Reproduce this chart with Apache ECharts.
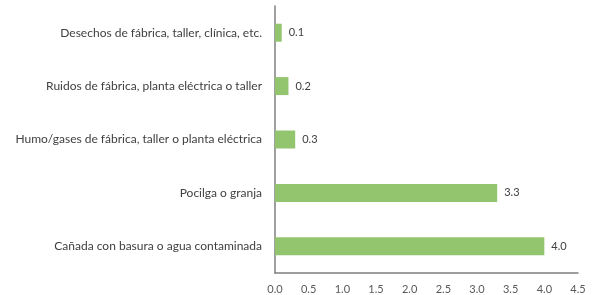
<!DOCTYPE html>
<html><head><meta charset="utf-8">
<script src="https://cdn.jsdelivr.net/npm/echarts@6/dist/echarts.min.js"></script>
<style>html,body{margin:0;padding:0;background:#fff}#c{width:592px;height:295px}</style>
</head><body><div id="c"></div>
<script>
const categories = [
  "Desechos de fábrica, taller, clínica, etc.",
  "Ruidos de fábrica, planta eléctrica o taller",
  "Humo/gases de fábrica, taller o planta eléctrica",
  "Pocilga o granja",
  "Cañada con basura o agua contaminada"
];
const values = [0.1, 0.2, 0.3, 3.3, 4.0];
const xTicks = { min: 0, max: 4.5, interval: 0.5 };

const chart = echarts.init(document.getElementById('c'), null, {renderer: 'canvas'});
chart.setOption({
  animation: false,
  grid: { left: 275, right: 14, top: 6, bottom: 22, containLabel: false },
  xAxis: {
    type: 'value', min: xTicks.min, max: xTicks.max, interval: xTicks.interval,
    axisLine: { show: true, lineStyle: { color: '#7f7f7f', width: 1.5 } },
    axisTick: { show: false },
    splitLine: { show: false },
    axisLabel: { color: '#595959', fontFamily: 'Lato', fontSize: 11, margin: 11,
      formatter: v => v.toFixed(1) }
  },
  yAxis: {
    type: 'category', data: categories, inverse: true,
    axisLine: { show: true, lineStyle: { color: '#7f7f7f', width: 1.5 } },
    axisTick: { show: false },
    axisLabel: { color: '#404040', fontFamily: 'Lato', fontSize: 12, margin: 13 }
  },
  series: [{
    type: 'bar', data: values, barWidth: 18,
    itemStyle: { color: '#93c56f' },
    label: { show: true, position: 'right', distance: 7, color: '#404040',
      fontFamily: 'Lato', fontSize: 11, formatter: p => p.value.toFixed(1) }
  }]
});
</script></body></html>
